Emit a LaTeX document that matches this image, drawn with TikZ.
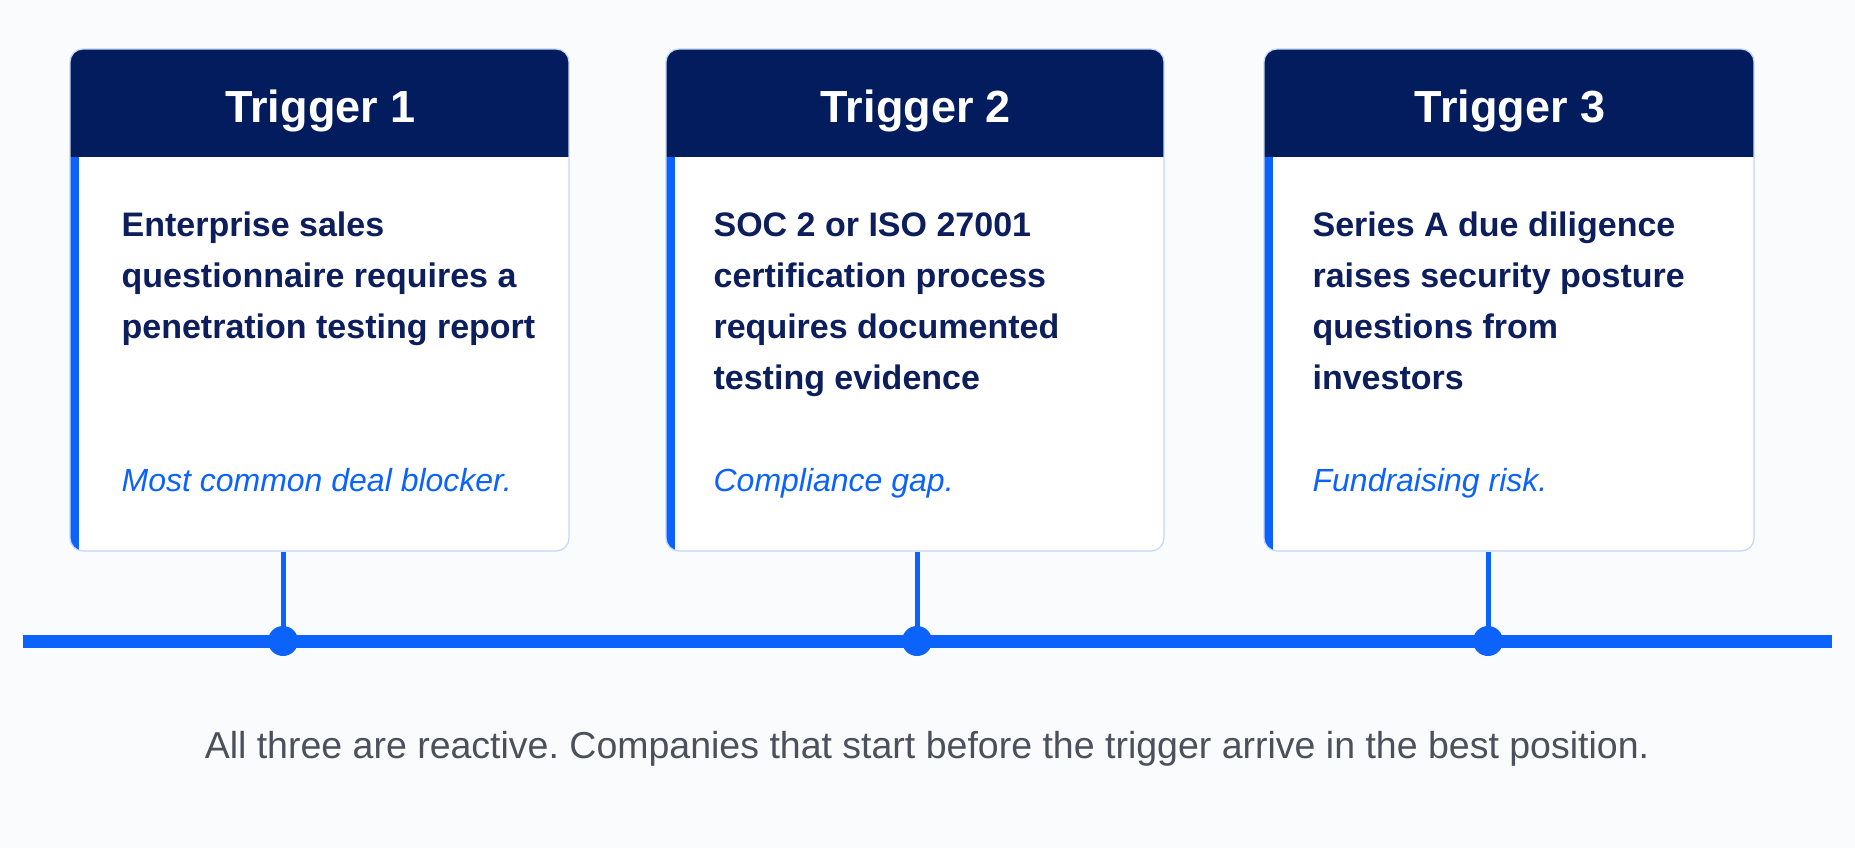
\documentclass[tikz,border=0pt]{standalone}
\usepackage{fontspec}
\setmainfont{Liberation Sans}
\frenchspacing
\usetikzlibrary{positioning,calc}
\definecolor{navy}{RGB}{3,28,94}
\definecolor{inknavy}{RGB}{12,30,92}
\definecolor{accent}{RGB}{11,99,251}
\definecolor{cardline}{RGB}{194,214,250}
\definecolor{notegray}{RGB}{75,80,91}
\definecolor{pagebg}{RGB}{250,251,252}

\begin{document}
\begin{tikzpicture}[
  x=1pt, y=-1pt,
  card/.style={
    rectangle, rounded corners=13pt,
    fill=white, draw=cardline, line width=1.2pt,
    minimum height=502pt, inner sep=0pt,
    path picture={
      \fill[navy, sharp corners] (path picture bounding box.north west) rectangle ([yshift=-108pt]path picture bounding box.north east);
      \fill[accent, sharp corners] ([yshift=-108pt]path picture bounding box.north west) rectangle ([xshift=9pt]path picture bounding box.south west);
    }
  },
  title/.style={anchor=base, text=white, font=\fontsize{45}{54}\selectfont\bfseries},
  % base of a multi-line node is its last line
  body/.style={anchor=base west, align=left, inner sep=0pt, text=inknavy, font=\fontsize{34}{51}\selectfont\bfseries},
  note/.style={anchor=base west, inner sep=0pt, text=accent, font=\fontsize{32}{38}\selectfont\itshape},
  tline/.style={draw=accent, line width=13pt},
  stem/.style={draw=accent, line width=5pt},
  tdot/.style={circle, fill=accent, minimum size=30pt, inner sep=0pt}
]
\fill[pagebg] (0,0) rectangle (1855,848);
\useasboundingbox (0,0) rectangle (1855,848);

% cards
\node[card, minimum width=499pt] (c1) at (319.5,300) {};
\node[card, minimum width=498pt] (c2) at (915,300) {};
\node[card, minimum width=490pt] (c3) at (1509,300) {};

\node[title] (h1) at ($(c1.north)+(1,74)$) {Trigger 1};
\node[title] (h2) at ($(c2.north)+(1,74)$) {Trigger 2};
\node[title] (h3) at ($(c3.north)+(1,74)$) {Trigger 3};

\node[body] (b1) at ($(c1.north west)+(52,290)$) {Enterprise sales\\questionnaire requires a\\penetration testing report};
\node[body] (b2) at ($(c2.north west)+(48,341)$) {SOC 2 or ISO 27001\\certification process\\requires documented\\testing evidence};
\node[body] (b3) at ($(c3.north west)+(49,341)$) {Series A due diligence\\raises security posture\\questions from\\investors};

\node[note] (n1) at ($(c1.north west)+(52,443)$) {Most common deal blocker.};
\node[note] (n2) at ($(c2.north west)+(48,443)$) {Compliance gap.};
\node[note] (n3) at ($(c3.north west)+(49,443)$) {Fundraising risk.};

% timeline
\coordinate (tl) at (23,641);
\coordinate (tr) at (1832,641);
\draw[tline] (tl) -- (tr);

\coordinate (p1) at (283,641);
\coordinate (p2) at (917,641);
\coordinate (p3) at (1488,641);
\draw[stem] (c1.south -| p1) -- (p1);
\draw[stem] (c2.south -| p2) -- (p2);
\draw[stem] (c3.south -| p3) -- (p3);
\node[tdot] (d1) at (p1) {};
\node[tdot] (d2) at (p2) {};
\node[tdot] (d3) at (p3) {};

\node[anchor=base, text=notegray, font=\fontsize{37.5}{44}\selectfont] (sum) at (927,758) {All three are reactive. Companies that start before the trigger arrive in the best position.};
\end{tikzpicture}
\end{document}
